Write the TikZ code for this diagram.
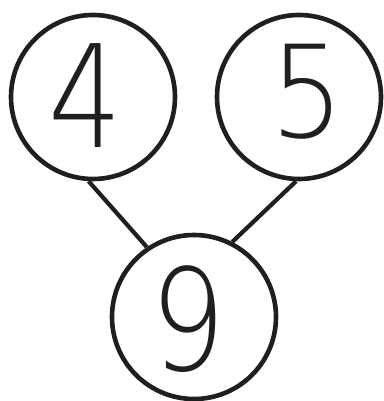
\documentclass[tikz,border=0pt]{standalone}
\usepackage{fontspec}
\newfontfamily\digitfont{DejaVu Sans ExtraLight}
\begin{document}
\begin{tikzpicture}[x=1pt,y=1pt,
  numcircle/.style={circle,draw=black!88,line width=4.6pt,minimum size=164pt,inner sep=0pt},
  digit/.style={font=\digitfont\fontsize{132}{132}\selectfont,text=black!88,inner sep=0pt,anchor=base},
  link/.style={draw=black!88,line width=4.2pt}]
\useasboundingbox (0,0) rectangle (383,401);
\node[numcircle] (a) at (93,304) {};
\node[numcircle] (b) at (299,304) {};
\node[numcircle] (c) at (194,84) {};
\node[digit] (ta) at (85,253) {\scalebox{0.88}[1.08]{4}};
\node[digit] (tb) at (307,263) {\scalebox{0.88}[0.97]{5}};
\node[digit] (tc) at (188,30) {\scalebox{0.9}[1.07]{9}};
\draw[link] (a.267) -- (c.124);
\draw[link] (b.268) -- (c.63);
\end{tikzpicture}
\end{document}
